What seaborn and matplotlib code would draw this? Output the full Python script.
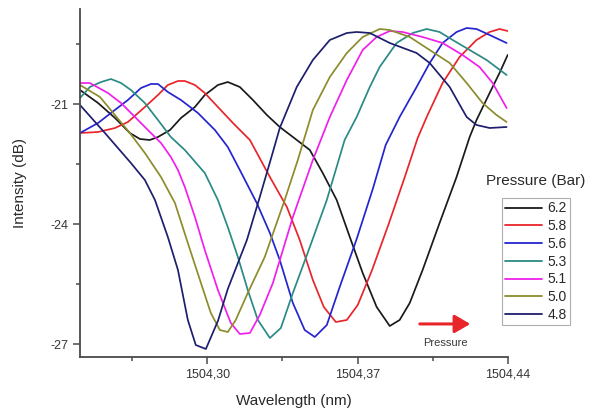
import numpy as np
import pandas as pd
import matplotlib
matplotlib.use("Agg")
import matplotlib.pyplot as plt
from matplotlib.lines import Line2D
import seaborn as sns

# ---------------- data ----------------
wl_48 = [1504.2408, 1504.2524, 1504.2645, 1504.2710, 1504.2757, 1504.2817, 1504.2864, 1504.2910,
         1504.2947, 1504.2994, 1504.3050, 1504.3096, 1504.3185, 1504.3245, 1504.3306, 1504.3338,
         1504.3417, 1504.3492, 1504.3571, 1504.3650, 1504.3696, 1504.3757, 1504.3850, 1504.3975,
         1504.4036, 1504.4129, 1504.4208, 1504.4254, 1504.4315, 1504.4394]
db_48 = [-21.025, -21.725, -22.475, -22.90, -23.40, -24.325, -25.15, -26.40, -27.025, -27.125,
         -26.425, -25.625, -24.40, -23.325, -22.20, -21.60, -20.575, -19.90, -19.40, -19.225,
         -19.20, -19.225, -19.475, -19.725, -19.975, -20.575, -21.325, -21.525, -21.60, -21.575]

wl_50 = [1504.2408, 1504.2501, 1504.2640, 1504.2710, 1504.2785, 1504.2850, 1504.2910, 1504.2971,
         1504.3017, 1504.3059, 1504.3096, 1504.3133, 1504.3189, 1504.3268, 1504.3361, 1504.3422,
         1504.3492, 1504.3571, 1504.3650, 1504.3724, 1504.3803, 1504.3850, 1504.3943, 1504.4036,
         1504.4129, 1504.4208, 1504.4282, 1504.4347, 1504.4394]
db_50 = [-20.525, -20.825, -21.725, -22.225, -22.825, -23.475, -24.475, -25.475, -26.225, -26.65,
         -26.70, -26.40, -25.725, -24.825, -23.40, -22.40, -21.15, -20.325, -19.725, -19.325,
         -19.125, -19.15, -19.325, -19.65, -19.975, -20.475, -20.975, -21.275, -21.45]

wl_51 = [1504.2408, 1504.2454, 1504.2538, 1504.2599, 1504.2664, 1504.2724, 1504.2785, 1504.2831,
         1504.2864, 1504.2896, 1504.2943, 1504.2989, 1504.3050, 1504.3110, 1504.3152, 1504.3199,
         1504.3245, 1504.3306, 1504.3399, 1504.3492, 1504.3571, 1504.3650, 1504.3724, 1504.3789,
         1504.3850, 1504.3910, 1504.4003, 1504.4096, 1504.4189, 1504.4268, 1504.4329, 1504.4394]
db_51 = [-20.475, -20.475, -20.725, -20.975, -21.325, -21.65, -21.975, -22.325, -22.65, -23.075,
         -23.825, -24.65, -25.65, -26.475, -26.75, -26.725, -26.275, -25.475, -23.825, -22.40,
         -21.325, -20.40, -19.65, -19.325, -19.175, -19.20, -19.325, -19.475, -19.775, -20.075,
         -20.475, -21.10]

wl_53 = [1504.2408, 1504.2454, 1504.2506, 1504.2552, 1504.2599, 1504.2645, 1504.2710, 1504.2771,
         1504.2831, 1504.2896, 1504.2989, 1504.3050, 1504.3096, 1504.3143, 1504.3189, 1504.3236,
         1504.3292, 1504.3343, 1504.3399, 1504.3478, 1504.3557, 1504.3640, 1504.3696, 1504.3757,
         1504.3803, 1504.3882, 1504.3957, 1504.4022, 1504.4082, 1504.4143, 1504.4222, 1504.4301,
         1504.4394]
db_53 = [-20.85, -20.575, -20.45, -20.375, -20.475, -20.65, -20.975, -21.40, -21.825, -22.15,
         -22.725, -23.40, -24.075, -24.825, -25.65, -26.40, -26.85, -26.60, -25.725, -24.575,
         -23.40, -21.90, -21.325, -20.575, -20.075, -19.475, -19.225, -19.125, -19.20, -19.40,
         -19.65, -19.90, -20.275]

wl_56 = [1504.2408, 1504.2492, 1504.2552, 1504.2631, 1504.2692, 1504.2738, 1504.2771, 1504.2817,
         1504.2878, 1504.2957, 1504.3036, 1504.3096, 1504.3152, 1504.3231, 1504.3292, 1504.3338,
         1504.3399, 1504.3454, 1504.3501, 1504.3557, 1504.3617, 1504.3696, 1504.3771, 1504.3831,
         1504.3896, 1504.3975, 1504.4036, 1504.4096, 1504.4161, 1504.4208, 1504.4254, 1504.4315,
         1504.4394]
db_56 = [-21.725, -21.475, -21.225, -20.90, -20.60, -20.50, -20.50, -20.70, -20.90, -21.225,
         -21.65, -22.075, -22.65, -23.475, -24.225, -24.90, -25.975, -26.65, -26.825, -26.525,
         -25.575, -24.375, -23.125, -22.025, -21.325, -20.575, -19.975, -19.475, -19.20, -19.10,
         -19.125, -19.275, -19.475]

wl_58 = [1504.2408, 1504.2492, 1504.2571, 1504.2631, 1504.2710, 1504.2771, 1504.2817, 1504.2864,
         1504.2896, 1504.2943, 1504.2989, 1504.3050, 1504.3120, 1504.3199, 1504.3292, 1504.3371,
         1504.3431, 1504.3492, 1504.3543, 1504.3599, 1504.3650, 1504.3701, 1504.3766, 1504.3845,
         1504.3920, 1504.3980, 1504.4022, 1504.4096, 1504.4175, 1504.4254, 1504.4315, 1504.4361,
         1504.4399]
db_58 = [-21.725, -21.70, -21.60, -21.45, -21.075, -20.775, -20.525, -20.425, -20.425, -20.525,
         -20.725, -21.075, -21.475, -21.90, -22.825, -23.575, -24.40, -25.40, -26.075, -26.45,
         -26.40, -26.025, -25.175, -24.00, -22.825, -21.85, -21.325, -20.475, -19.825, -19.40,
         -19.20, -19.125, -19.175]

wl_62 = [1504.2408, 1504.2492, 1504.2571, 1504.2640, 1504.2687, 1504.2733, 1504.2771, 1504.2827,
         1504.2878, 1504.2943, 1504.2989, 1504.3050, 1504.3096, 1504.3152, 1504.3213, 1504.3278,
         1504.3338, 1504.3399, 1504.3478, 1504.3538, 1504.3603, 1504.3664, 1504.3724, 1504.3789,
         1504.3850, 1504.3896, 1504.3943, 1504.4003, 1504.4082, 1504.4161, 1504.4222, 1504.4254,
         1504.4315, 1504.4361, 1504.4399]
db_62 = [-20.65, -20.975, -21.35, -21.725, -21.875, -21.90, -21.825, -21.65, -21.35, -21.075,
         -20.775, -20.525, -20.45, -20.575, -20.90, -21.275, -21.575, -21.825, -22.15, -22.725,
         -23.40, -24.325, -25.225, -26.075, -26.55, -26.40, -25.975, -25.15, -23.975, -22.825,
         -21.825, -21.40, -20.725, -20.225, -19.775]

pressures = ["6.2", "5.8", "5.6", "5.3", "5.1", "5.0", "4.8"]
series_wl = [wl_62, wl_58, wl_56, wl_53, wl_51, wl_50, wl_48]
series_db = [db_62, db_58, db_56, db_53, db_51, db_50, db_48]
colors = ["#1a1a1a", "#e8252a", "#2424d0", "#2a8a84", "#f020ea", "#8c8c2c", "#1e1e6e"]

x_ticks = [1504.30, 1504.37, 1504.44]
x_tick_labels = ["1504,30", "1504,37", "1504,44"]
x_minor = [1504.265, 1504.335, 1504.405]
y_ticks = [-21, -24, -27]
y_tick_labels = ["-21", "-24", "-27"]
y_minor = [-19.5, -22.5, -25.5]

# ---------------- build table ----------------
frames = []
for p, w, d in zip(pressures, series_wl, series_db):
    frames.append(pd.DataFrame({"wl": w, "db": d, "p": p}))
df = pd.concat(frames, ignore_index=True)

sns.set_style("ticks")
plt.rcParams["font.family"] = ["Liberation Sans", "DejaVu Sans"]

fig = plt.figure(figsize=(5.94, 4.09), dpi=100)
ax = fig.add_axes([80 / 594, 1 - 357 / 409, 428 / 594, 348 / 409])

palette = dict(zip(pressures, colors))
sns.lineplot(data=df, x="wl", y="db", hue="p", hue_order=pressures, palette=palette,
             estimator=None, sort=False, legend=False, lw=1.25, ax=ax)

ax.set_xlim(1504.2408, 1504.44005)
ax.set_ylim(-27.325, -18.625)

ax.set_xticks(x_ticks)
ax.set_xticklabels(x_tick_labels)
ax.set_xticks(x_minor, minor=True)
ax.set_yticks(y_ticks)
ax.set_yticklabels(y_tick_labels)
ax.set_yticks(y_minor, minor=True)

for s in ["top", "right"]:
    ax.spines[s].set_visible(False)
for s in ["left", "bottom"]:
    ax.spines[s].set_color("#4a4a4a")
    ax.spines[s].set_linewidth(1.3)

ax.tick_params(which="major", direction="out", length=5, width=1.1, color="#4a4a4a",
               labelsize=9, labelcolor="#333333", pad=3)
ax.tick_params(which="minor", direction="out", length=3, width=1.1, color="#4a4a4a")

ax.set_xlabel("Wavelength (nm)", fontsize=11, color="#2a2a2a", labelpad=10)
ax.set_ylabel("Intensity (dB)", fontsize=11, color="#2a2a2a", labelpad=17)

# legend (title drawn separately above the box, as in the reference)
handles = [Line2D([0], [0], color=c, lw=1.3) for c in colors]
leg = fig.legend(handles, pressures, loc="upper left", bbox_to_anchor=(502 / 594, 1 - 198 / 409),
                 bbox_transform=fig.transFigure, fontsize=10, frameon=True, fancybox=False,
                 edgecolor="#9a9a9a", borderpad=0.25, labelspacing=0.27, handlelength=2.6,
                 handletextpad=0.4, borderaxespad=0)
leg.get_frame().set_linewidth(0.8)
for t in leg.get_texts():
    t.set_color("#2a2a2a")
fig.text(536 / 594, 1 - 181 / 409, "Pressure (Bar)", ha="center", va="center", fontsize=11,
         color="#2a2a2a")

# pressure arrow
ax.annotate("", xy=(0.912, 0.095), xytext=(0.794, 0.095), xycoords="axes fraction",
            arrowprops=dict(arrowstyle="-|>,head_length=0.95,head_width=0.55", lw=2.2,
                            color="#e8252a", mutation_scale=10, shrinkA=0, shrinkB=0))
ax.text(0.853, 0.040, "Pressure", transform=ax.transAxes, ha="center", va="center",
        fontsize=8, color="#3a3a3a")

fig.savefig("out.png", dpi=100)
